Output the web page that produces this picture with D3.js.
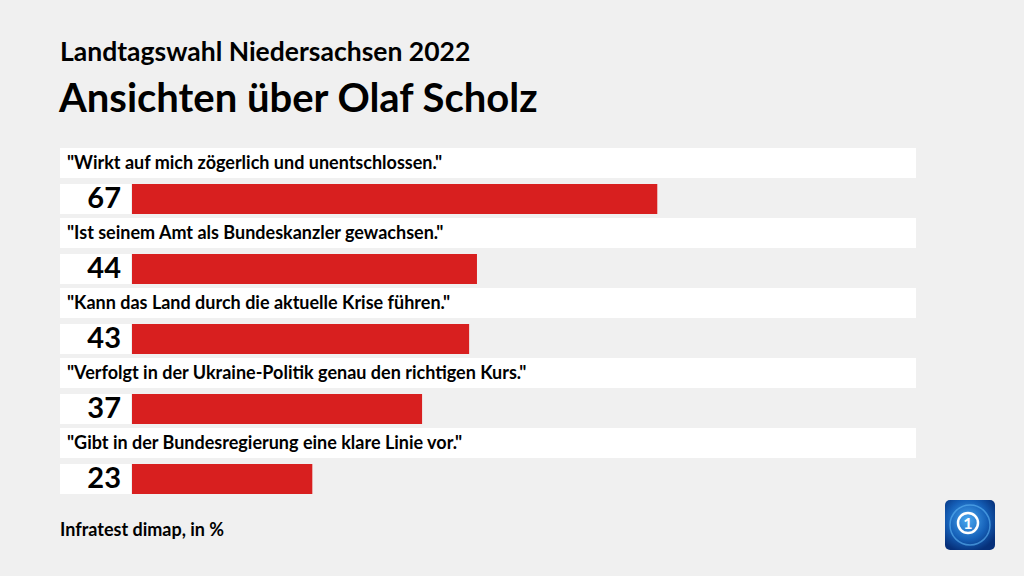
<!DOCTYPE html>
<html>
<head>
<meta charset="utf-8">
<script src="https://cdn.jsdelivr.net/npm/d3@7"></script>
<style>
  body { margin: 0; background: #f0f0f0; }
  svg { display: block; font-family: Lato, "Open Sans", sans-serif; }
</style>
</head>
<body>
<div id="chart-area"></div>
<script>
// Data
var statements = [
    "\"Wirkt auf mich zögerlich und unentschlossen.\"",
    "\"Ist seinem Amt als Bundeskanzler gewachsen.\"",
    "\"Kann das Land durch die aktuelle Krise führen.\"",
    "\"Verfolgt in der Ukraine-Politik genau den richtigen Kurs.\"",
    "\"Gibt in der Bundesregierung eine klare Linie vor.\""
];
var values = [67, 44, 43, 37, 23];

var width = 1024, height = 576;

var svg = d3.select("#chart-area").append("svg")
    .attr("width", width)
    .attr("height", height);

svg.append("rect")
    .attr("width", width)
    .attr("height", height)
    .attr("fill", "#f0f0f0");

// Titles
svg.append("text")
    .attr("x", 60)
    .attr("y", 61)
    .attr("font-size", "26.5px")
    .attr("font-weight", "bold")
    .attr("fill", "#000")
    .text("Landtagswahl Niedersachsen 2022");

svg.append("text")
    .attr("x", 59)
    .attr("y", 112)
    .attr("font-size", "40px")
    .attr("font-weight", "bold")
    .attr("fill", "#000")
    .text("Ansichten über Olaf Scholz");

// Scales
var x = d3.scaleLinear().domain([0, 100]).range([132, 916]);
var y = d3.scaleBand()
    .domain(d3.range(values.length))
    .range([148, 498])
    .paddingInner(0);

var rows = svg.selectAll(".row")
    .data(values)
    .enter().append("g")
    .attr("class", "row")
    .attr("transform", function(d, i) { return "translate(0," + y(i) + ")"; });

// statement strip
rows.append("rect")
    .attr("x", 60)
    .attr("y", 0)
    .attr("width", x(100) - 60)
    .attr("height", 30)
    .attr("fill", "#fff");

rows.append("text")
    .attr("x", 67)
    .attr("y", 21)
    .attr("font-size", "18px")
    .attr("font-weight", "bold")
    .attr("fill", "#000")
    .text(function(d, i) { return statements[i]; });

// value box
rows.append("rect")
    .attr("x", 60)
    .attr("y", 36)
    .attr("width", x(0) - 1 - 60)
    .attr("height", 30)
    .attr("fill", "#fff");

rows.append("text")
    .attr("x", 121)
    .attr("y", 60)
    .attr("text-anchor", "end")
    .attr("font-size", "29px")
    .attr("font-weight", "bold")
    .attr("fill", "#000")
    .text(function(d) { return d; });

// bars
rows.append("rect")
    .attr("x", x(0))
    .attr("y", 36)
    .attr("width", function(d) { return x(d) - x(0); })
    .attr("height", 30)
    .attr("fill", "#d81f1f");

// Source
svg.append("text")
    .attr("x", 60)
    .attr("y", 536)
    .attr("font-size", "18px")
    .attr("font-weight", "bold")
    .attr("fill", "#000")
    .text("Infratest dimap, in %");

// Logo
var defs = svg.append("defs");
var grad = defs.append("radialGradient")
    .attr("id", "logoGrad")
    .attr("cx", "45%").attr("cy", "40%").attr("r", "65%");
grad.append("stop").attr("offset", "0%").attr("stop-color", "#4aa8f0");
grad.append("stop").attr("offset", "60%").attr("stop-color", "#1560b8");
grad.append("stop").attr("offset", "100%").attr("stop-color", "#06307a");

var logo = svg.append("g").attr("transform", "translate(945,500)");
logo.append("rect")
    .attr("width", 50).attr("height", 50)
    .attr("rx", 5)
    .attr("fill", "url(#logoGrad)");
logo.append("circle")
    .attr("cx", 25).attr("cy", 25).attr("r", 20)
    .attr("fill", "none")
    .attr("stroke", "#5fb6f5")
    .attr("stroke-width", 1.5)
    .attr("opacity", 0.6);
logo.append("circle")
    .attr("cx", 23).attr("cy", 23).attr("r", 10)
    .attr("fill", "none")
    .attr("stroke", "#fff")
    .attr("stroke-width", 2.5);
logo.append("text")
    .attr("x", 23).attr("y", 29)
    .attr("text-anchor", "middle")
    .attr("font-size", "16px")
    .attr("font-weight", "bold")
    .attr("fill", "#fff")
    .text("1");
</script>
</body>
</html>
